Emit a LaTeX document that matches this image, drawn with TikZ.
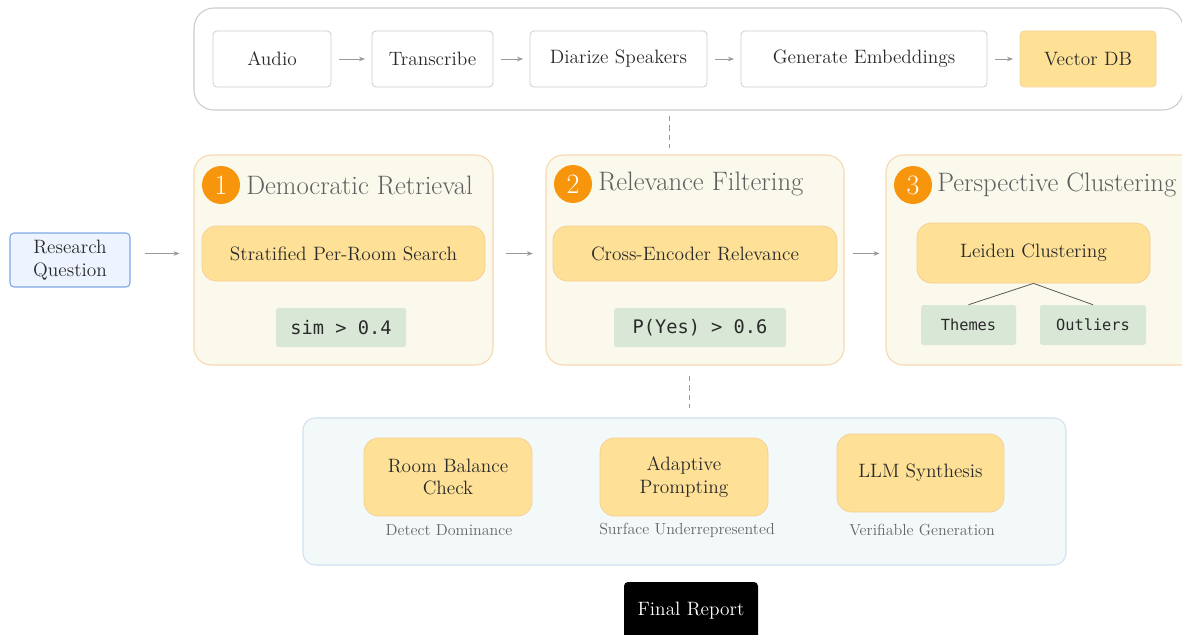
\documentclass[tikz,border=0pt]{standalone}
\usepackage{fontspec}
\setmonofont{DejaVu Sans Mono}
\usetikzlibrary{arrows.meta}
\definecolor{txt}{HTML}{2A2A2A}
\definecolor{procb}{HTML}{CCCCCC}
\definecolor{vdbf}{HTML}{FEE195}
\definecolor{vdbb}{HTML}{F8D49A}
\definecolor{rqf}{HTML}{EEF4FF}
\definecolor{rqb}{HTML}{7EA8E6}
\definecolor{stf}{HTML}{FAF9EB}
\definecolor{stb}{HTML}{F8D8B0}
\definecolor{inf}{HTML}{FEE197}
\definecolor{inb}{HTML}{F6CF95}
\definecolor{codef}{HTML}{D9E7D6}
\definecolor{botf}{HTML}{F3F8F9}
\definecolor{botb}{HTML}{CFE1F2}
\definecolor{badge}{HTML}{F7960C}
\definecolor{ttl}{HTML}{5F5F5F}
\definecolor{sub}{HTML}{666666}
\definecolor{arr}{HTML}{999999}
\tikzset{
  sz/.style 2 args={minimum width=#1*0.75pt, minimum height=#2*0.75pt},
  box/.style={inner sep=0pt, text=txt, font=\fontsize{14.5}{17}\selectfont, align=center},
  proc/.style={box, draw=procb, fill=white, rounded corners=3pt, line width=0.6pt},
  vdb/.style={box, draw=vdbb, fill=vdbf, rounded corners=3pt, line width=0.6pt},
  rq/.style={box, draw=rqb, fill=rqf, rounded corners=3pt, line width=0.8pt},
  stage/.style={inner sep=0pt, draw=stb, fill=stf, rounded corners=13pt, line width=0.8pt},
  inner/.style={box, draw=inb, fill=inf, rounded corners=11pt, line width=0.6pt},
  code/.style={box, fill=codef, rounded corners=2pt, font=\ttfamily\fontsize{14}{16}\selectfont},
  codes/.style={box, fill=codef, rounded corners=2pt, font=\ttfamily\fontsize{11.5}{13}\selectfont},
  container/.style={inner sep=0pt, draw=procb, fill=white, rounded corners=15pt, line width=0.8pt},
  botc/.style={inner sep=0pt, draw=botb, fill=botf, rounded corners=9pt, line width=0.8pt},
  badgec/.style={circle, fill=badge, text=white, inner sep=0pt, minimum size=28.5pt, font=\fontsize{21}{21}\selectfont},
  title/.style={anchor=west, text=ttl, inner sep=0pt, font=\fontsize{20}{22}\selectfont},
  sublab/.style={text=sub, inner sep=0pt, font=\fontsize{12}{14}\selectfont},
  arrow/.style={draw=arr, line width=0.6pt, -{Stealth[length=4.5pt,width=3.5pt]}},
  garrow/.style={arrow, shorten <=6pt, shorten >=5pt},
  dashln/.style={draw=arr, line width=0.6pt, dash pattern=on 4pt off 3pt},
  link/.style={draw=black!65, line width=0.6pt},
  final/.style={box, fill=black, text=white, rounded corners=3pt},
}
\begin{document}
\begin{tikzpicture}[x=0.75pt,y=-0.75pt]
\useasboundingbox (0,0) rectangle (1182,635);
% top container
\node[container, sz={989}{102}] (top) at (688.5,59) {};
\node[proc, sz={118}{56}] (audio) at (272,59) {Audio};
\node[proc, sz={121}{56}] (trans) at (432.5,59) {Transcribe};
\node[proc, sz={177}{56}] (diar) at (618.5,59) {Diarize Speakers};
\node[proc, sz={246}{56}] (emb) at (864,59) {Generate Embeddings};
\node[vdb, sz={136}{56}] (vdb) at (1088,59) {Vector DB};
\draw[garrow] (audio) -- (trans);
\draw[garrow] (trans) -- (diar);
\draw[garrow] (diar) -- (emb);
\draw[garrow] (emb) -- (vdb);
% dashed
\coordinate (d1a) at (669,116);
\coordinate (d1b) at (669,148);
\draw[dashln] (d1a) -- (d1b);
% research question
\node[rq, sz={120}{54}] (rq) at (70,260) {Research\\Question};
% stages
\node[stage, sz={299}{210}] (s1) at (343.5,260) {};
\node[stage, sz={298}{210}] (s2) at (695,260) {};
\node[stage, sz={314}{210}] (s3) at (1043,260) {};
\node[badgec] (b1) at (221,185) {1};
\node[badgec] (b2) at (573,184) {2};
\node[badgec] (b3) at (913,185) {3};
\node[title] (t1) at (246,185) {Democratic Retrieval};
\node[title] (t2) at (598,184) {Relevance Filtering};
\node[title] (t3) at (937,185) {Perspective Clustering};
\node[inner, sz={283}{55}] (i1) at (343.5,253.5) {Stratified Per-Room Search};
\node[inner, sz={284}{55}] (i2) at (695,253.5) {Cross-Encoder Relevance};
\node[inner, sz={233}{60}] (i3) at (1033.5,253) {Leiden Clustering};
\node[code, sz={130}{39}] (c1) at (341,327.5) {sim > 0.4};
\node[code, sz={172}{39}] (c2) at (700,327.5) {P(Yes) > 0.6};
\node[codes, sz={95}{40}] (th) at (968.5,325) {Themes};
\node[codes, sz={106}{40}] (ou) at (1093,325) {Outliers};
\draw[link] (i3.south) -- (th.north);
\draw[link] (i3.south) -- (ou.north);
\draw[arrow, shorten <=11pt, shorten >=10.5pt] (rq.east |- i1.west) -- (s1.west |- i1.west);
\draw[arrow, shorten <=9pt, shorten >=9.5pt] (s1.east |- i1.east) -- (s2.west |- i2.west);
\draw[arrow, shorten <=6pt, shorten >=4.5pt] (s2.east |- i2.east) -- (s3.west |- i2.east);
% dashed 2
\coordinate (d2a) at (689,376);
\coordinate (d2b) at (689,408);
\draw[dashln] (d2a) -- (d2b);
% bottom container
\node[botc, sz={763}{147}] (bot) at (684.5,491.5) {};
\node[inner, sz={168}{78}] (rb) at (448,477) {Room Balance\\Check};
\node[inner, sz={168}{78}] (ap) at (684,477) {Adaptive\\Prompting};
\node[inner, sz={167}{78}] (llm) at (920.5,473) {LLM Synthesis};
\node[sublab] (l1) at (449,530) {Detect Dominance};
\node[sublab] (l2) at (687,530) {Surface Underrepresented};
\node[sublab] (l3) at (922,530) {Verifiable Generation};
\node[final, sz={134}{58}] (fin) at (691,611) {Final Report};
\end{tikzpicture}
\end{document}
